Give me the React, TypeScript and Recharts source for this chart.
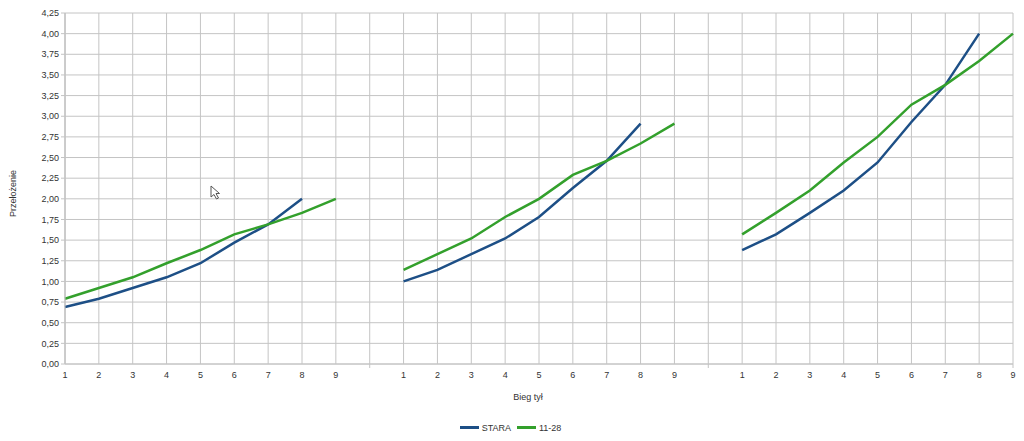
import React from 'react';
import { LineChart, Line, XAxis, YAxis, CartesianGrid, Legend, Label } from 'recharts';

// Tick labels
const gearLabels = ['1', '2', '3', '4', '5', '6', '7', '8', '9'];
const yTicks = [0, 0.25, 0.5, 0.75, 1, 1.25, 1.5, 1.75, 2, 2.25, 2.5, 2.75, 3, 3.25, 3.5, 3.75, 4, 4.25];

// Series values, one group per front chainring
const stara1 = [0.69, 0.79, 0.92, 1.05, 1.22, 1.47, 1.69, 2.0];
const stara2 = [1.0, 1.14, 1.33, 1.52, 1.78, 2.13, 2.46, 2.91];
const stara3 = [1.38, 1.57, 1.83, 2.1, 2.44, 2.93, 3.38, 4.0];
const nowa1 = [0.79, 0.92, 1.05, 1.22, 1.38, 1.57, 1.69, 1.83, 2.0];
const nowa2 = [1.14, 1.33, 1.52, 1.78, 2.0, 2.29, 2.46, 2.67, 2.91];
const nowa3 = [1.57, 1.83, 2.1, 2.44, 2.75, 3.14, 3.38, 3.67, 4.0];

const staraGroups = [stara1, stara2, stara3];
const nowaGroups = [nowa1, nowa2, nowa3];

type Row = { k: number; label: string; stara: number | null; nowa: number | null };
const rows: Row[] = [];
staraGroups.forEach((s, g) => {
  if (g > 0) rows.push({ k: rows.length, label: '', stara: null, nowa: null });
  gearLabels.forEach((lab, i) => {
    rows.push({
      k: rows.length,
      label: lab,
      stara: s[i] !== undefined ? s[i] : null,
      nowa: nowaGroups[g][i] !== undefined ? nowaGroups[g][i] : null,
    });
  });
});

const BLUE = '#1d4f86';
const GREEN = '#33a02c';
const GRID = '#c4c4c4';
const TEXT = '#333333';
const FONT = '"Liberation Sans", Arial, sans-serif';

const XTick = (props: any) => {
  const { x, y, payload } = props;
  const row = rows[payload.value];
  const label = row ? row.label : '';
  const isLast = payload.value === rows.length - 1;
  const axisY = y - 8;
  return (
    <g>
      {(label === '' || isLast) && (
        <line x1={x} x2={x} y1={axisY} y2={axisY + 4} stroke={GRID} strokeWidth={1} />
      )}
      <text x={x} y={y} dy="0.71em" textAnchor="middle" fill={TEXT} fontSize={9} fontFamily={FONT}>
        {label}
      </text>
    </g>
  );
};

const LegendContent = () => (
  <div
    style={{
      height: 27,
      display: 'flex',
      justifyContent: 'center',
      alignItems: 'center',
      fontFamily: FONT,
      fontSize: 9,
      color: TEXT,
      paddingLeft: 8,
    }}
  >
    <span style={{ display: 'inline-block', width: 19, height: 3, background: BLUE, marginRight: 3 }} />
    <span style={{ marginRight: 6 }}>STARA</span>
    <span style={{ display: 'inline-block', width: 19, height: 3, background: GREEN, marginRight: 3 }} />
    <span>11-28</span>
  </div>
);

const YLabel = (props: any) => {
  const vb = props.viewBox || {};
  const cy = (vb.y || 0) + (vb.height || 0) / 2 + 5;
  return (
    <text
      x={13}
      y={cy}
      transform={`rotate(-90, 13, ${cy})`}
      textAnchor="middle"
      dominantBaseline="central"
      fill={TEXT}
      fontSize={9}
      fontFamily={FONT}
    >
      Przełożenie
    </text>
  );
};

const XLabel = () => (
  <text x={528} y={397} textAnchor="middle" dominantBaseline="central" fill={TEXT} fontSize={9} fontFamily={FONT}>
    Bieg tył
  </text>
);

export default function App() {
  return (
    <div style={{ position: 'absolute', left: 0, top: 0, width: 1024, height: 441, background: '#fff' }}>
      <LineChart
        width={1024}
        height={441}
        data={rows}
        margin={{ top: 13, right: 11, bottom: 0, left: 0 }}
        style={{ fontFamily: FONT }}
      >
        <CartesianGrid stroke={GRID} strokeWidth={1} />
        <XAxis
          dataKey="k"
          type="category"
          scale="point"
          interval={0}
          height={50}
          tickSize={5}
          tickMargin={3}
          tickLine={false}
          tick={<XTick />}
          stroke={GRID}
          allowDuplicatedCategory={false}
        >
          <Label content={<XLabel />} />
        </XAxis>
        <YAxis
          width={65}
          domain={[0, 4.25]}
          ticks={yTicks}
          interval={0}
          tickSize={4}
          tickMargin={2}
          stroke={GRID}
          tick={{ fill: TEXT, fontSize: 9, fontFamily: FONT }}
          tickFormatter={(v: number) => v.toFixed(2).replace('.', ',')}
        >
          <Label content={<YLabel />} />
        </YAxis>
        <Legend verticalAlign="bottom" height={27} content={<LegendContent />} />
        <Line
          dataKey="stara"
          name="STARA"
          type="linear"
          stroke={BLUE}
          strokeWidth={2.5}
          dot={false}
          activeDot={false}
          connectNulls={false}
          isAnimationActive={false}
        />
        <Line
          dataKey="nowa"
          name="11-28"
          type="linear"
          stroke={GREEN}
          strokeWidth={2.5}
          dot={false}
          activeDot={false}
          connectNulls={false}
          isAnimationActive={false}
        />
      </LineChart>
      <svg
        width={12}
        height={16}
        style={{ position: 'absolute', left: 210, top: 185, pointerEvents: 'none' }}
      >
        <path d="M1 1 L1 12 L4 9.5 L6.5 14 L8.5 13 L6 8.5 L9.5 8.5 Z" fill="#fff" stroke="#555" strokeWidth={1} />
      </svg>
    </div>
  );
}
